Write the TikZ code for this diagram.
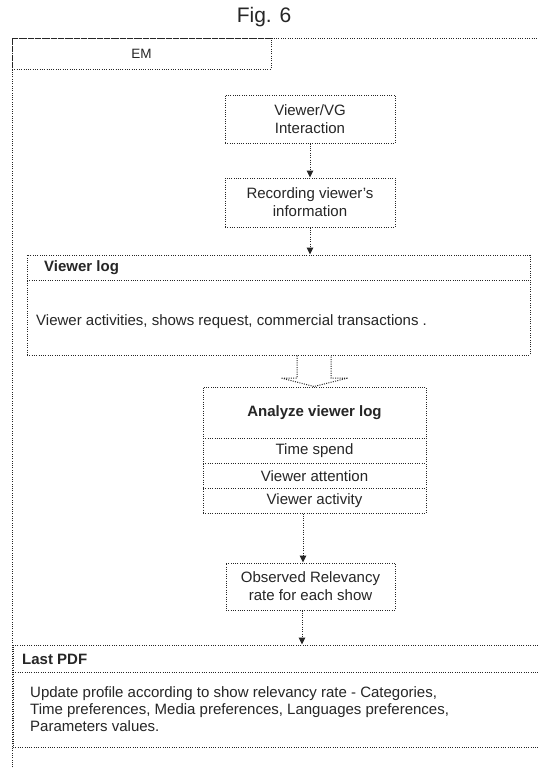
\documentclass[tikz,border=0pt]{standalone}
\usepackage{fontspec}
\setmainfont{Liberation Sans}
\usetikzlibrary{arrows.meta,calc}

\newcommand\boxfont{\fontsize{15}{18}\selectfont}
\newcommand\bodyfont{\fontsize{15}{17}\selectfont}

\begin{document}
\begin{tikzpicture}[x=1pt,y=-1pt,
  dotline/.style={draw=black!85, line width=1pt, dash pattern=on 1pt off 1.3pt},
  box/.style={dotline, rectangle, inner sep=0pt, align=center, font=\boxfont, text=black!85},
  label/.style={inner sep=0pt, font=\boxfont, text=black!85},
  conn/.style={dotline, -{Triangle[length=7pt,width=6.5pt]}},
]
\useasboundingbox (0,0) rectangle (538,769);
\fill[white] (0,0) rectangle (538,769);

% title
\node[inner sep=0pt, font=\fontsize{21}{24}\selectfont, text=black!85] (title) at (264,17) {Fig. 6};

% outer frame of the EM unit
\draw[dotline] (12,772) -- (12,38) -- (542,38);
\node[box, minimum width=259pt, minimum height=31pt, font=\fontsize{13.5}{16}\selectfont] (em) at (141.5,53.5) {EM};

% interaction and recording steps
\node[box, minimum width=170pt, minimum height=48pt] (vg) at (310,119) {Viewer/VG\\Interaction};
\node[box, minimum width=170pt, minimum height=49pt] (rec) at (310,202.5) {Recording viewer's\\information};

% viewer log
\node[box, minimum width=503pt, minimum height=100pt] (vlog) at (278.5,305) {};
\draw[dotline] (27,280) -- (530,280);
\node[label, anchor=west, font=\boxfont\bfseries] (vloghead) at (44,268) {Viewer log};
\node[label, anchor=west] (vlogbody) at (36,322) {Viewer activities, shows request, commercial transactions .};

% analysis of the log
\node[box, minimum width=223pt, minimum height=126pt] (ana) at (314.5,450) {};
\draw[dotline] (203,438) -- (426,438);
\draw[dotline] (203,463) -- (426,463);
\draw[dotline] (203,488) -- (426,488);
\node[label, font=\boxfont\bfseries] (anahead) at (314.5,413) {Analyze viewer log};
\node[label] (anatime) at (314.5,451) {Time spend};
\node[label] (anaatt) at (314.5,476) {Viewer attention};
\node[label] (anaact) at (314.5,501) {Viewer activity};

% relevancy rate
\node[box, minimum width=169pt, minimum height=47pt] (obs) at (310.5,586.5) {Observed Relevancy\\rate for each show};

% last PDF
\node[box, minimum width=529pt, minimum height=102pt] (lpdf) at (277.5,696) {};
\draw[dotline] (13,672) -- (542,672);
\node[label, anchor=west, font=\boxfont\bfseries] (lpdfhead) at (22,659) {Last PDF};
\node[label, anchor=west, align=left, font=\bodyfont] (lpdfbody) at (30,709) {Update profile according to show relevancy rate - Categories,\\Time preferences, Media preferences, Languages preferences,\\Parameters values.};

% connectors
\draw[conn] (vg.south) -- (rec.north);
\draw[conn] (rec.south) -- (rec.south |- vlog.north);
\draw[dotline] (vlog.south -| 297,0) -- (297,378) -- (281,378) -- (ana.north -| 314,0)
  -- (348,378) -- (331,378) -- (vlog.south -| 331,0);
\draw[conn] (ana.south -| 303,0) -- (obs.north -| 303,0);
\draw[conn] (obs.south -| 302,0) -- (lpdf.north -| 302,0);
\end{tikzpicture}
\end{document}
